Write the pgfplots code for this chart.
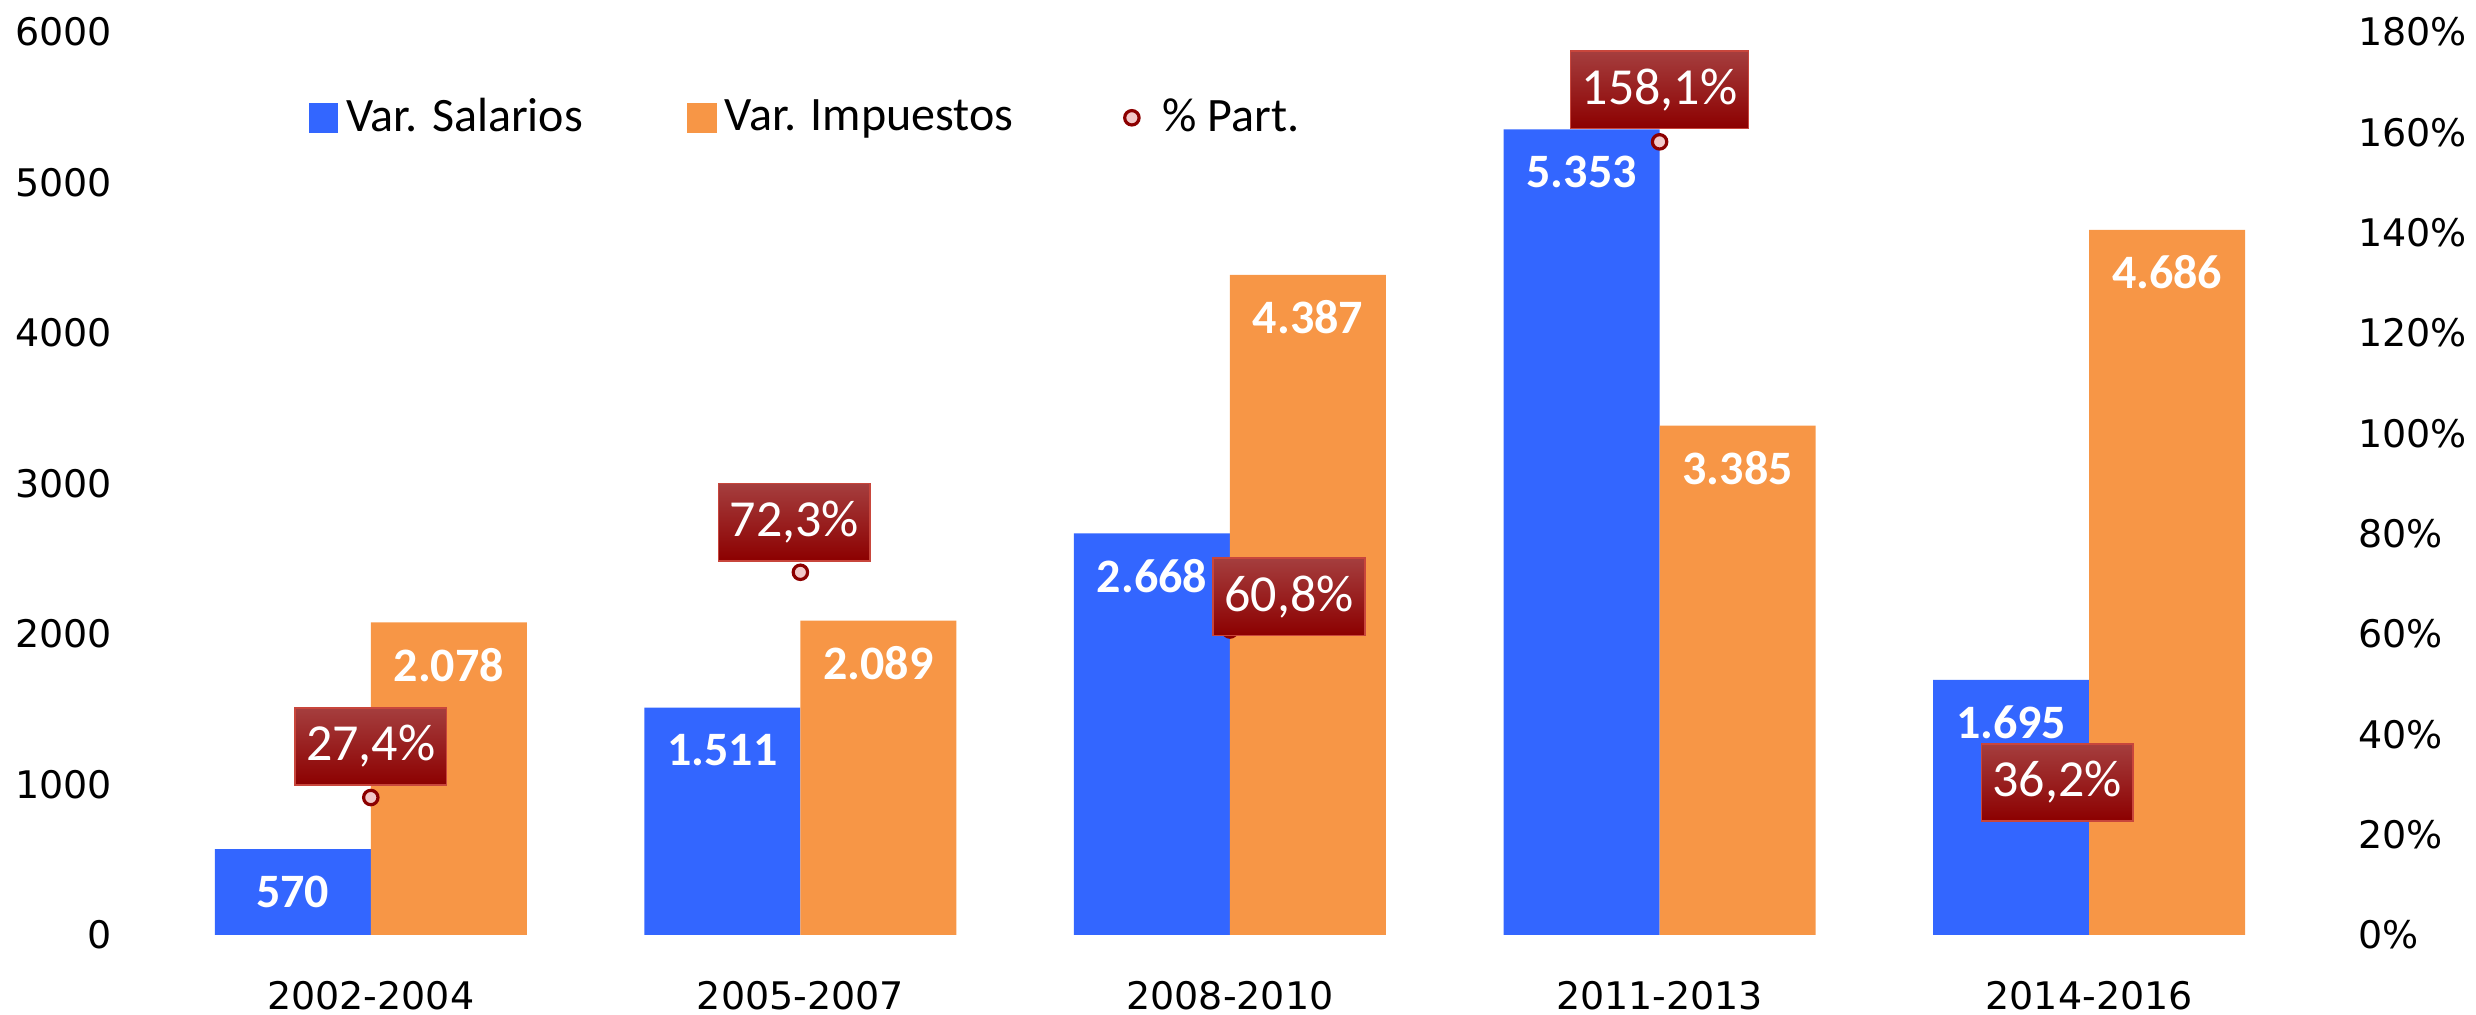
\documentclass[border=0pt]{standalone}
\usepackage{pgfplots}
\pgfplotsset{compat=1.18}
\usepackage{pgfplotstable}
\usepackage{fontspec}
\setmainfont{Carlito}
\newfontfamily\dejavu{DejaVu Sans}
\definecolor{salblue}{RGB}{51,102,255}
\definecolor{impor}{RGB}{247,150,70}
\definecolor{lblTop}{RGB}{165,62,62}
\definecolor{lblBot}{RGB}{140,0,0}
\definecolor{lblDraw}{RGB}{200,70,60}
\definecolor{mkFill}{RGB}{242,200,200}
\definecolor{mkDraw}{RGB}{140,0,0}

\pgfplotstableread{
x y dx dy
0 27.4 0 12.75
1 72.3 -1.5 12.5
2 60.8 14.75 8.25
3 158.1 0 13
4 36.2 -8 -7.25
}\pcttable

\begin{document}
\begin{tikzpicture}
\begin{axis}[
  scale only axis, width=537pt, height=225.75pt,
  xmin=-0.5, xmax=4.5, ymin=0, ymax=6000,
  axis x line*=bottom, axis y line*=left,
  axis line style={draw=none}, major tick length=0pt,
  ytick={0,1000,...,6000},
  xtick={0,1,2,3,4},
  xticklabels={2002-2004,2005-2007,2008-2010,2011-2013,2014-2016},
  tick label style={font=\dejavu\fontsize{9.5}{11}\selectfont},
  yticklabel style={xshift=-7.5pt},
  xticklabel style={yshift=-8pt},
  /pgf/number format/assume math mode=true,
  /pgf/number format/1000 sep={},
  ybar=0pt, bar width=39pt,
  nodes near coords={\pgfmathprintnumber[1000 sep={.},assume math mode=true]{\pgfplotspointmeta}},
  every node near coord/.append style={font=\bfseries\fontsize{12}{12}\selectfont, text=white, anchor=center, yshift=-10.7pt},
]
\addplot[fill=salblue, draw=none, bar shift=-19.5pt] coordinates {(0,570) (1,1511) (2,2668) (3,5353) (4,1695)};
\addplot[fill=impor, draw=none, bar shift=19.5pt] coordinates {(0,2078) (1,2089) (2,4387) (3,3385) (4,4686)};
\end{axis}
\begin{axis}[
  scale only axis, width=537pt, height=225.75pt,
  xmin=-0.5, xmax=4.5, ymin=0, ymax=180,
  axis x line=none, axis y line*=right,
  axis line style={draw=none}, major tick length=0pt,
  ytick={0,20,...,180},
  yticklabel={\pgfmathprintnumber{\tick}\%},
  tick label style={font=\dejavu\fontsize{9.5}{11}\selectfont},
  yticklabel style={xshift=10pt},
  /pgf/number format/assume math mode=true,
  legend columns=3,
  legend style={at={(0.0651,0.905)}, anchor=west, draw=none, fill=none,
    font=\fontsize{12}{13}\selectfont,
    /tikz/every even column/.append style={column sep=24pt}},
]
\addlegendimage{legend image code/.code={\fill[salblue] (0pt,-3.5pt) rectangle (7pt,3.5pt);}}
\addlegendentry{Var. Salarios}
\addlegendimage{legend image code/.code={\fill[impor] (0pt,-3.5pt) rectangle (7pt,3.5pt);}}
\addlegendentry{Var. Impuestos}
\addplot[only marks, mark=*, mark size=1.8pt,
  mark options={fill=mkFill, draw=mkDraw, line width=0.8pt},
  legend image code/.code={\path[draw=none,fill=none] (0pt,0pt) -- (9.3pt,0pt);\draw[fill=mkFill, draw=mkDraw, line width=0.8pt] (3.6pt,0pt) circle[radius=1.8pt];},
  visualization depends on={\thisrow{dx} \as \dx},
  visualization depends on={\thisrow{dy} \as \dy},
  nodes near coords={\pgfmathprintnumber[fixed, fixed zerofill, precision=1, use comma, assume math mode=true]{\pgfplotspointmeta}\%},
  every node near coord/.append style={font=\fontsize{13}{13}\selectfont, text=white,
    top color=lblTop, bottom color=lblBot, draw=lblDraw, line width=0.4pt,
    inner xsep=2.8pt, inner ysep=4.4pt, anchor=center,
    xshift=\dx pt, yshift=\dy pt},
] table[x=x, y=y] {\pcttable};
\addlegendentry{\% Part.}
\end{axis}
\pgfresetboundingbox
\path[use as bounding box] (-39pt,-20pt) rectangle (580pt,233.75pt);
\end{tikzpicture}
\end{document}
